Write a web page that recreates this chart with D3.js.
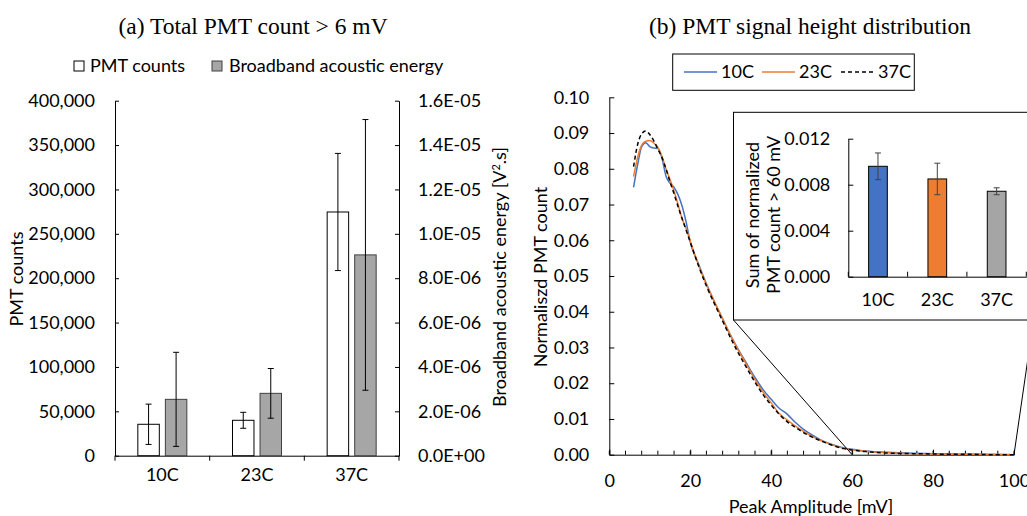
<!DOCTYPE html>
<html lang="en">
<head>
<meta charset="UTF-8">
<title>PMT count and signal height</title>
<script src="https://cdn.jsdelivr.net/npm/d3@7"></script>
<style>
  body { margin: 0; background: #fff; }
  svg { display: block; }
  text { fill: #000; }
</style>
</head>
<body>
<div id="chart"></div>
<script>
// ---- panel (a) data
const temps = ["10C", "23C", "37C"];
const pmtCounts = [35400, 39900, 274600];
const pmtErr = [22700, 9000, 66000];
const acousticEnergy = [2.54e-6, 2.81e-6, 9.05e-6];
const acousticErr = [2.12e-6, 1.12e-6, 6.1e-6];

// ---- panel (b) data, peak amplitude in mV
const amplitude = [6, 7, 8, 9, 10, 11, 12, 13, 14, 15, 16, 17, 18, 19, 20, 22, 24, 26, 28, 30,
  32, 34, 36, 38, 40, 42, 44, 46, 48, 50, 52, 54, 56, 58, 60, 62, 64, 66, 68, 70, 75, 80, 85, 90, 95, 100];
const dist10C = [0.0748, 0.0812, 0.0862, 0.0873, 0.0862, 0.0858, 0.0857, 0.0830, 0.0780, 0.0760,
  0.0748, 0.0727, 0.0695, 0.0650, 0.0595, 0.0535, 0.0478, 0.0427, 0.0380, 0.0333,
  0.0292, 0.0254, 0.0216, 0.0182, 0.0155, 0.0130, 0.0113, 0.0090, 0.0071, 0.0056,
  0.0043, 0.0033, 0.0025, 0.0019, 0.0015, 0.0012, 0.0010, 0.0008, 0.0007, 0.0006,
  0.0004, 0.0003, 0.0002, 0.0001, 0.0001, 0.0000];
const dist23C = [0.0778, 0.0832, 0.0866, 0.0877, 0.0879, 0.0872, 0.0860, 0.0835, 0.0800, 0.0770,
  0.0738, 0.0700, 0.0660, 0.0632, 0.0598, 0.0532, 0.0476, 0.0428, 0.0380, 0.0333,
  0.0290, 0.0250, 0.0210, 0.0175, 0.0145, 0.0115, 0.0097, 0.0080, 0.0065, 0.0052,
  0.0041, 0.0032, 0.0024, 0.0018, 0.0014, 0.0011, 0.0009, 0.0007, 0.0006, 0.0005,
  0.0003, 0.0002, 0.0001, 0.0001, 0.0000, 0.0000];
const dist37C = [0.0806, 0.0868, 0.0898, 0.0906, 0.0896, 0.0878, 0.0855, 0.0832, 0.0800, 0.0764,
  0.0730, 0.0694, 0.0660, 0.0628, 0.0595, 0.0530, 0.0472, 0.0422, 0.0374, 0.0326,
  0.0282, 0.0242, 0.0203, 0.0168, 0.0139, 0.0113, 0.0092, 0.0076, 0.0062, 0.0050,
  0.0040, 0.0031, 0.0023, 0.0017, 0.0013, 0.0010, 0.0008, 0.0006, 0.0005, 0.0004,
  0.0003, 0.0002, 0.0001, 0.0001, 0.0000, 0.0000];

// ---- inset data: sum of normalized count above 60 mV
const sumAbove60 = [0.0096, 0.0085, 0.00743];
const sumAbove60Err = [0.00116, 0.00137, 0.0003];

const seriesColors = ["#4472C4", "#ED7D31", "#A5A5A5"];

const W = 1027, H = 516;
const sans = "Lato, 'Open Sans', sans-serif";
const serif = "'Liberation Serif', 'DejaVu Serif', serif";
const fs = "18px";

const svg = d3.select("#chart").append("svg")
    .attr("width", W).attr("height", H)
    .style("font-family", sans);

// ================= panel (a)
const a = svg.append("g");
const ax = d3.scaleBand().domain(temps).range([115, 399]);
const ayL = d3.scaleLinear().domain([0, 400000]).range([455.7, 100.7]);
const ayR = d3.scaleLinear().domain([0, 1.6e-5]).range([455.7, 100.7]);
const sub = d3.scaleBand().domain(["pmt", "energy"]).range([-24.5, 24.5]).paddingInner(0.22);

const sciFmt = v => {
    const [m, e] = v.toExponential(1).toUpperCase().split("E");
    const n = +e;
    return m + "E" + (n < 0 ? "-" : "+") + String(Math.abs(n)).padStart(2, "0");
};

const leftAxis = a.append("g").attr("transform", "translate(115,0)")
    .call(d3.axisLeft(ayL).tickValues(d3.range(0, 400001, 50000)).tickFormat(d3.format(","))
        .tickSizeInner(-4).tickSizeOuter(0).tickPadding(20));
const rightAxis = a.append("g").attr("transform", "translate(399,0)")
    .call(d3.axisRight(ayR).tickValues(d3.range(0, 9).map(i => i * 2e-6)).tickFormat(sciFmt)
        .tickSizeInner(-4).tickSizeOuter(0).tickPadding(19));
const bottomA = a.append("g").attr("transform", "translate(0,455.7)")
    .call(d3.axisBottom(ax).tickSize(0).tickPadding(13));
// category separators
bottomA.selectAll(".sep").data([115, 209.7, 304.3, 399]).join("line")
    .attr("x1", d => d).attr("x2", d => d).attr("y1", 0).attr("y2", 5).attr("stroke", "#000");

[leftAxis, rightAxis, bottomA].forEach(g => {
    g.selectAll("text").style("font-family", sans).style("font-size", fs).attr("fill", "#000");
    g.selectAll("path, line").attr("stroke", "#000");
});

const groups = a.append("g").selectAll("g").data(temps).join("g")
    .attr("transform", d => `translate(${ax(d) + ax.bandwidth() / 2},0)`);

// PMT count bars
groups.append("rect")
    .attr("x", sub("pmt")).attr("width", sub.bandwidth())
    .attr("y", (d, i) => ayL(pmtCounts[i]))
    .attr("height", (d, i) => ayL(0) - ayL(pmtCounts[i]))
    .attr("fill", "#fff").attr("stroke", "#000").attr("stroke-width", 1);
// acoustic energy bars
groups.append("rect")
    .attr("x", sub("energy")).attr("width", sub.bandwidth())
    .attr("y", (d, i) => ayR(acousticEnergy[i]))
    .attr("height", (d, i) => ayR(0) - ayR(acousticEnergy[i]))
    .attr("fill", "#A6A6A6").attr("stroke", "#404040").attr("stroke-width", 1);

function errorBar(g, cx, yTop, yBot, cap, color) {
    g.append("line").attr("x1", cx).attr("x2", cx).attr("y1", yTop).attr("y2", yBot).attr("stroke", color);
    g.append("line").attr("x1", cx - cap).attr("x2", cx + cap).attr("y1", yTop).attr("y2", yTop).attr("stroke", color);
    g.append("line").attr("x1", cx - cap).attr("x2", cx + cap).attr("y1", yBot).attr("y2", yBot).attr("stroke", color);
}
groups.each(function(d, i) {
    const g = d3.select(this);
    const c1 = sub("pmt") + sub.bandwidth() / 2;
    const c2 = sub("energy") + sub.bandwidth() / 2;
    errorBar(g, c1, ayL(pmtCounts[i] + pmtErr[i]), ayL(pmtCounts[i] - pmtErr[i]), 3, "#000");
    errorBar(g, c2, ayR(acousticEnergy[i] + acousticErr[i]), ayR(acousticEnergy[i] - acousticErr[i]), 3, "#000");
});

// titles and labels
a.append("text").attr("x", 253).attr("y", 34).attr("text-anchor", "middle")
    .style("font-family", serif).style("font-size", "23.5px").text("(a) Total PMT count > 6 mV");
a.append("text").attr("transform", "translate(23,279) rotate(-90)").attr("text-anchor", "middle")
    .style("font-size", fs).text("PMT counts");
const rt = a.append("text").attr("transform", "translate(506,277) rotate(-90)").attr("text-anchor", "middle")
    .style("font-size", fs);
rt.append("tspan").text("Broadband acoustic energy [V");
rt.append("tspan").attr("dy", -6).style("font-size", "11px").text("2");
rt.append("tspan").attr("dy", 6).text(".s]");

// legend (a)
const legA = a.append("g");
legA.append("rect").attr("x", 74).attr("y", 61).attr("width", 10).attr("height", 10)
    .attr("fill", "#fff").attr("stroke", "#000");
legA.append("text").attr("x", 90).attr("y", 72).style("font-size", fs).text("PMT counts");
legA.append("rect").attr("x", 212).attr("y", 61).attr("width", 10).attr("height", 10)
    .attr("fill", "#A6A6A6").attr("stroke", "#404040");
legA.append("text").attr("x", 229).attr("y", 72).style("font-size", fs).text("Broadband acoustic energy");

// ================= panel (b)
const b = svg.append("g");
const bx = d3.scaleLinear().domain([0, 100]).range([609.3, 1014]);
const by = d3.scaleLinear().domain([0, 0.1]).range([454.7, 97.3]);

const yAxisB = b.append("g").attr("transform", "translate(609.3,0)")
    .call(d3.axisLeft(by).tickValues(d3.range(0, 11).map(i => i / 100)).tickFormat(d3.format(".2f"))
        .tickSizeInner(-5).tickSizeOuter(0).tickPadding(20));
const xAxisB = b.append("g").attr("transform", "translate(0,454.7)")
    .call(d3.axisBottom(bx).tickValues(d3.range(0, 101, 20)).tickSizeInner(-5).tickSizeOuter(0).tickPadding(20));
// minor ticks every 4 mV
xAxisB.selectAll(".minor").data(d3.range(0, 101, 4)).join("line")
    .attr("x1", d => bx(d)).attr("x2", d => bx(d)).attr("y1", 0).attr("y2", -4).attr("stroke", "#000");

[yAxisB, xAxisB].forEach(g => {
    g.selectAll("text").style("font-family", sans).style("font-size", fs).attr("fill", "#000");
    g.selectAll("path, line").attr("stroke", "#000");
});

const curves = [dist10C, dist23C, dist37C];
const curveStyle = [
    {color: "#4472C4", dash: null},
    {color: "#ED7D31", dash: null},
    {color: "#000", dash: "4,3"}
];
const line = d3.line().x(d => bx(d[0])).y(d => by(d[1])).curve(d3.curveMonotoneX);
curves.forEach((vals, k) => {
    b.append("path")
        .datum(amplitude.map((x, i) => [x, vals[i]]))
        .attr("d", line)
        .attr("fill", "none")
        .attr("stroke", curveStyle[k].color)
        .attr("stroke-width", 1.5)
        .attr("stroke-dasharray", curveStyle[k].dash);
});

b.append("text").attr("x", 810).attr("y", 34).attr("text-anchor", "middle")
    .style("font-family", serif).style("font-size", "23.5px").text("(b) PMT signal height distribution");
b.append("text").attr("x", 811).attr("y", 513).attr("text-anchor", "middle")
    .style("font-size", fs).text("Peak Amplitude [mV]");
b.append("text").attr("transform", "translate(547,277) rotate(-90)").attr("text-anchor", "middle")
    .style("font-size", fs).text("Normaliszd PMT count");

// legend (b)
const legB = b.append("g");
legB.append("rect").attr("x", 672.7).attr("y", 54).attr("width", 241.6).attr("height", 36.3)
    .attr("fill", "#fff").attr("stroke", "#000");
const legItems = [
    {label: "10C", x: 684},
    {label: "23C", x: 762},
    {label: "37C", x: 841}
];
legItems.forEach((it, k) => {
    legB.append("line").attr("x1", it.x).attr("x2", it.x + 33).attr("y1", 72).attr("y2", 72)
        .attr("stroke", curveStyle[k].color).attr("stroke-width", 1.5)
        .attr("stroke-dasharray", curveStyle[k].dash);
    legB.append("text").attr("x", it.x + 37).attr("y", 78).style("font-size", fs).text(it.label);
});

// connector lines from inset box to zoom region
b.append("line").attr("x1", 733.5).attr("y1", 320).attr("x2", bx(60)).attr("y2", by(0)).attr("stroke", "#000");
b.append("line").attr("x1", bx(100)).attr("y1", by(0)).attr("x2", 1033.5).attr("y2", 320).attr("stroke", "#000");

// ================= inset
const ins = svg.append("g");
ins.append("rect").attr("x", 733.5).attr("y", 112.3).attr("width", 300).attr("height", 207.7)
    .attr("fill", "#fff").attr("stroke", "#000");
const ix = d3.scaleBand().domain(temps).range([848.3, 1026.3]);
const iy = d3.scaleLinear().domain([0, 0.012]).range([276.7, 138.7]);
const iyAxis = ins.append("g").attr("transform", "translate(848.3,0)")
    .call(d3.axisLeft(iy).tickValues([0, 0.004, 0.008, 0.012]).tickFormat(d3.format(".3f"))
        .tickSizeInner(-5).tickSizeOuter(0).tickPadding(18));
const ixAxis = ins.append("g").attr("transform", "translate(0,276.7)")
    .call(d3.axisBottom(ix).tickSize(0).tickPadding(17));
ixAxis.selectAll(".sep").data([848.3, 907.6, 966.9, 1026.3]).join("line")
    .attr("x1", d => d).attr("x2", d => d).attr("y1", 0).attr("y2", -5).attr("stroke", "#000");
[iyAxis, ixAxis].forEach(g => {
    g.selectAll("text").style("font-family", sans).style("font-size", fs).attr("fill", "#000");
    g.selectAll("path, line").attr("stroke", "#000");
});

const bw = 18.7;
ins.append("g").selectAll("rect").data(temps).join("rect")
    .attr("x", d => ix(d) + ix.bandwidth() / 2 - bw / 2).attr("width", bw)
    .attr("y", (d, i) => iy(sumAbove60[i]))
    .attr("height", (d, i) => iy(0) - iy(sumAbove60[i]))
    .attr("fill", (d, i) => seriesColors[i]).attr("stroke", "#000");
const insErr = ins.append("g");
temps.forEach((t, i) => {
    const cx = ix(t) + ix.bandwidth() / 2;
    errorBar(insErr, cx, iy(sumAbove60[i] + sumAbove60Err[i]), iy(sumAbove60[i] - sumAbove60Err[i]), 3, "#404040");
});

const it = ins.append("text").attr("transform", "translate(759,215) rotate(-90)").attr("text-anchor", "middle")
    .style("font-size", fs);
it.append("tspan").attr("x", 0).attr("dy", 0).text("Sum of normalized");
it.append("tspan").attr("x", 0).attr("dy", 21).text("PMT count > 60 mV");
</script>
</body>
</html>
